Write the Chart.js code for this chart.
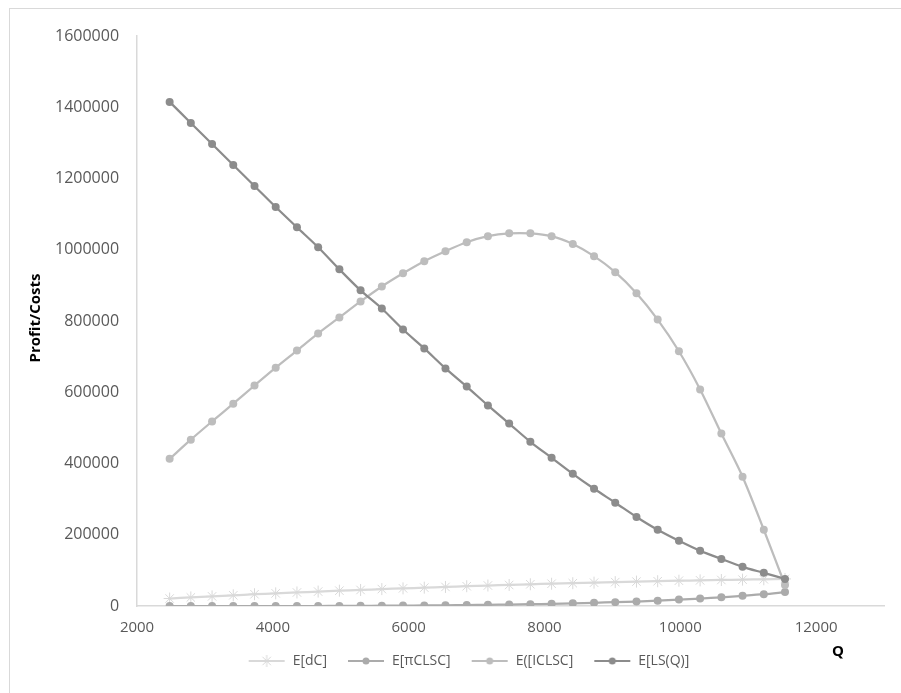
<!DOCTYPE html>
<html>
<head>
<meta charset="utf-8">
<script src="https://cdn.jsdelivr.net/npm/chart.js@4/dist/chart.umd.min.js"></script>
<style>
  html, body { margin: 0; padding: 0; background: #fff; }
  #wrap { position: relative; width: 901px; height: 693px; }
</style>
</head>
<body>
<div id="wrap"><canvas id="lineChart"></canvas></div>
<script>
// Q values (x axis)
const qValues = [2480, 2792, 3105, 3417, 3730, 4042, 4355, 4667, 4980, 5292,
                 5605, 5917, 6230, 6542, 6855, 7167, 7480, 7792, 8105, 8417,
                 8730, 9042, 9355, 9667, 9980, 10292, 10605, 10917, 11230, 11542];

const dcValues = [21000, 24000, 27000, 30000, 33000, 35500, 38000, 40500, 43000, 45000,
                  47500, 49500, 51500, 53500, 55500, 57500, 59000, 61000, 62500, 64000,
                  65500, 67000, 68500, 69500, 71000, 72000, 73000, 74000, 75000, 76000];

const piValues = [0, 0, 0, 0, 0, 0, 0, 0, 300, 500,
                  800, 1100, 1500, 2000, 2500, 3200, 4000, 5000, 6000, 7500,
                  9000, 10700, 12500, 15000, 18000, 21000, 24500, 28500, 33000, 39000];

const iclscValues = [413000, 467000, 518000, 568000, 619000, 669000, 717000, 765000, 810000, 855000,
                     897000, 934000, 968000, 996000, 1021000, 1038000, 1046000, 1046000, 1038000, 1016000,
                     982000, 937000, 878000, 804000, 715000, 608000, 484000, 363000, 214000, 59000];

const lsValues = [1415000, 1356000, 1297000, 1238000, 1179000, 1120000, 1063000, 1007000, 945000, 886000,
                  835000, 776000, 723000, 667000, 616000, 563000, 512000, 461000, 416000, 371000,
                  329000, 290000, 250000, 214000, 183000, 155000, 132000, 110000, 93000, 76000];

const seriesNames = ['E[dC]', 'E[\u03C0CLSC]', 'E([ICLSC]', 'E[LS(Q)]'];
const yTicks = [0, 200000, 400000, 600000, 800000, 1000000, 1200000, 1400000, 1600000];
const xTicks = [2000, 4000, 6000, 8000, 10000, 12000];

const textColor = '#595959';
const fontFamily = "'Open Sans', 'Noto Sans', sans-serif";

function toPoints(values) {
    return values.map((v, i) => ({ x: qValues[i], y: v }));
}

// line+marker pictures for the legend (left part is empty space = gap to previous item)
function legendIcon(color, star) {
    const c = document.createElement('canvas');
    c.width = 54;
    c.height = 14;
    const g = c.getContext('2d');
    g.strokeStyle = color;
    g.lineWidth = 2;
    g.beginPath();
    g.moveTo(17, 7);
    g.lineTo(53, 7);
    g.stroke();
    if (star) {
        g.lineWidth = 1;
        g.beginPath();
        for (let a = 0; a < 4; a++) {
            const ang = a * Math.PI / 4;
            g.moveTo(35 - 6 * Math.cos(ang), 7 - 6 * Math.sin(ang));
            g.lineTo(35 + 6 * Math.cos(ang), 7 + 6 * Math.sin(ang));
        }
        g.stroke();
    } else {
        g.fillStyle = color;
        g.beginPath();
        g.arc(35, 7, 3.5, 0, Math.PI * 2);
        g.fill();
    }
    return c;
}

const colors = ['#d9d9d9', '#ababab', '#bdbdbd', '#8c8c8c'];

const frameAndTitles = {
    id: 'frameAndTitles',
    beforeDraw(chart) {
        const g = chart.ctx;
        g.save();
        g.strokeStyle = '#d9d9d9';
        g.lineWidth = 1;
        g.strokeRect(9.5, 8.5, 1000, 1000);
        g.restore();
    },
    afterDraw(chart) {
        const g = chart.ctx;
        g.save();
        g.fillStyle = '#000';
        g.font = "bold 15px " + fontFamily;
        g.textAlign = 'center';
        g.textBaseline = 'middle';
        g.translate(36, 318);
        g.rotate(-Math.PI / 2);
        g.fillText('Profit/Costs', 0, 0);
        g.restore();

        g.save();
        g.fillStyle = '#000';
        g.font = "bold 15px " + fontFamily;
        g.textAlign = 'center';
        g.textBaseline = 'middle';
        g.fillText('Q', 838, 652);
        g.restore();
    }
};

const datasets = [dcValues, piValues, iclscValues, lsValues].map((vals, i) => ({
    label: seriesNames[i],
    data: toPoints(vals),
    borderColor: colors[i],
    backgroundColor: colors[i],
    borderWidth: 2.25,
    tension: 0.3,
    pointStyle: i === 0 ? 'star' : 'circle',
    pointRadius: i === 0 ? 6 : 4,
    pointBorderWidth: i === 0 ? 1 : 0,
    pointBorderColor: colors[i],
    pointBackgroundColor: colors[i],
    order: 4 - i
}));

const icons = colors.map((c, i) => legendIcon(c, i === 0));

new Chart(document.getElementById('lineChart'), {
    type: 'line',
    data: { datasets: datasets },
    plugins: [frameAndTitles],
    options: {
        responsive: true,
        maintainAspectRatio: false,
        animation: false,
        layout: {
            padding: { left: 37, right: 17, top: 36, bottom: 15 }
        },
        plugins: {
            legend: {
                position: 'bottom',
                labels: {
                    usePointStyle: true,
                    pointStyleWidth: 54,
                    boxHeight: 14,
                    padding: 4,
                    color: textColor,
                    font: { family: fontFamily, size: 14 },
                    generateLabels: function(chart) {
                        return chart.data.datasets.map((ds, i) => ({
                            text: ds.label,
                            fillStyle: colors[i],
                            strokeStyle: colors[i],
                            lineWidth: 0,
                            pointStyle: icons[i],
                            fontColor: textColor,
                            hidden: false,
                            datasetIndex: i
                        }));
                    }
                }
            },
            tooltip: { enabled: false }
        },
        scales: {
            x: {
                type: 'linear',
                min: 2000,
                max: 13000,
                afterBuildTicks: function(axis) {
                    axis.ticks = xTicks.map(v => ({ value: v }));
                },
                grid: {
                    display: true,
                    drawOnChartArea: false,
                    drawTicks: false,
                    color: '#d9d9d9'
                },
                border: { color: '#d9d9d9', width: 1.5 },
                ticks: {
                    padding: 13,
                    color: textColor,
                    font: { family: fontFamily, size: 15 },
                    maxRotation: 0,
                    callback: v => String(v)
                }
            },
            y: {
                min: 0,
                max: 1600000,
                afterBuildTicks: function(axis) {
                    axis.ticks = yTicks.map(v => ({ value: v }));
                },
                grid: {
                    display: true,
                    drawOnChartArea: false,
                    drawTicks: false,
                    color: '#d9d9d9'
                },
                border: { color: '#d9d9d9', width: 1.5 },
                ticks: {
                    padding: 18,
                    color: textColor,
                    font: { family: fontFamily, size: 16 },
                    callback: v => String(v)
                }
            }
        }
    }
});
</script>
</body>
</html>
